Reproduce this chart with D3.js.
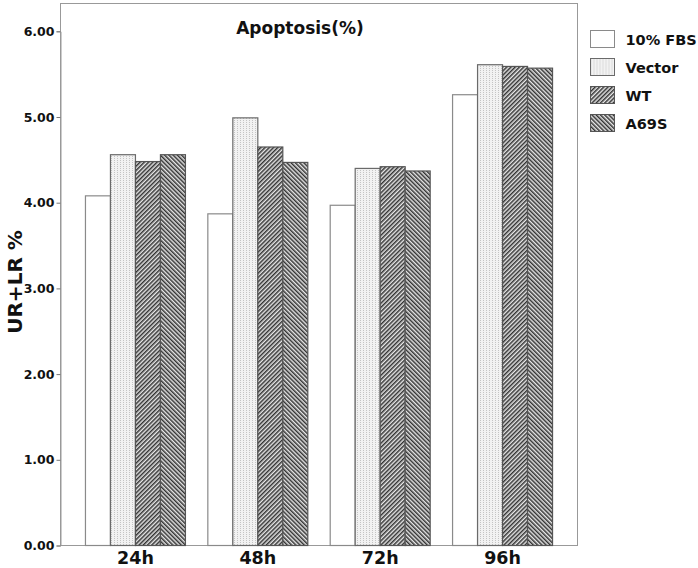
<!DOCTYPE html>
<html>
<head>
<meta charset="utf-8">
<script src="https://cdn.jsdelivr.net/npm/d3@7"></script>
<style>
  html, body { margin: 0; padding: 0; background: #fff; }
  svg { display: block; }
  text { font-family: "DejaVu Sans", Verdana, sans-serif; font-weight: bold; fill: #111; }
</style>
</head>
<body>
<svg id="chart" width="698" height="568"></svg>
<script>
// ---- data ----
const categories = ["24h", "48h", "72h", "96h"];
const series = ["10% FBS", "Vector", "WT", "A69S"];
const fbsValues    = [4.08, 3.87, 3.97, 5.26];
const vectorValues = [4.56, 4.99, 4.40, 5.61];
const wtValues     = [4.48, 4.65, 4.42, 5.59];
const a69sValues   = [4.56, 4.47, 4.37, 5.57];
const yTicks = [0, 1, 2, 3, 4, 5, 6];
const chartTitle = "Apoptosis(%)";
const yTitle = "UR+LR %";

const valuesBySeries = [fbsValues, vectorValues, wtValues, a69sValues];

(function () {
// ---- layout ----
const svg = d3.select("#chart");
const mLeft = 60.5, mRight = 577.5, mTop = 3.5, mBottom = 545.5;

const x0 = d3.scaleBand().domain(categories).range([mLeft, mRight])
  .paddingInner(0.183).paddingOuter(0.204);
const x1 = d3.scaleBand().domain(series).range([0, x0.bandwidth()]).padding(0);
const y = d3.scaleLinear().domain([0, 6]).range([mBottom, 31.3]);

// ---- patterns ----
const defs = svg.append("defs");
const pv = defs.append("pattern").attr("id", "pVector")
  .attr("patternUnits", "userSpaceOnUse").attr("width", 3).attr("height", 2);
pv.append("rect").attr("width", 3).attr("height", 2).attr("fill", "#f2f2f2");
pv.append("rect").attr("x", 0).attr("y", 0).attr("width", 1).attr("height", 1).attr("fill", "#c4c4c4");

function diag(id, angle) {
  const p = defs.append("pattern").attr("id", id)
    .attr("patternUnits", "userSpaceOnUse").attr("width", 3).attr("height", 3)
    .attr("patternTransform", `rotate(${angle})`);
  p.append("rect").attr("width", 3).attr("height", 3).attr("fill", "#e6e6e6");
  p.append("line").attr("x1", 0.75).attr("x2", 0.75).attr("y1", -1).attr("y2", 4)
    .attr("stroke", "#333").attr("stroke-width", 1.5);
}
diag("pWT", 45);
diag("pA69S", -45);

const fills = { "10% FBS": "#ffffff", "Vector": "url(#pVector)", "WT": "url(#pWT)", "A69S": "url(#pA69S)" };
const strokes = { "10% FBS": "#8a8a8a", "Vector": "#6a6a6a", "WT": "#555", "A69S": "#555" };

// ---- frame ----
svg.append("rect").attr("x", mLeft).attr("y", mTop)
  .attr("width", mRight - mLeft).attr("height", mBottom - mTop)
  .attr("fill", "none").attr("stroke", "#999").attr("stroke-width", 1);

// ---- bars ----
const data = [];
categories.forEach((c, i) => series.forEach((s, j) => data.push({ c, s, v: valuesBySeries[j][i] })));

svg.append("g").selectAll("rect").data(data).join("rect")
  .attr("x", d => x0(d.c) + x1(d.s))
  .attr("y", d => y(d.v))
  .attr("width", x1.bandwidth())
  .attr("height", d => y(0) - y(d.v))
  .attr("fill", d => fills[d.s])
  .attr("stroke", d => strokes[d.s])
  .attr("stroke-width", 1.2);

// ---- y axis ----
const yAxis = d3.axisLeft(y).tickValues(yTicks).tickFormat(d3.format(".2f")).tickSizeOuter(0).tickSize(4).tickPadding(2);
const gy = svg.append("g").attr("transform", `translate(${mLeft},0)`).call(yAxis);
gy.select(".domain").attr("stroke", "#999");
gy.selectAll(".tick line").attr("stroke", "#777");
gy.selectAll(".tick text").style("font-size", "12.5px").style("font-family", "DejaVu Sans").style("font-weight", "bold").attr("fill", "#111");

// ---- x axis labels ----
const xAxis = d3.axisBottom(x0).tickSize(0).tickPadding(6);
const gx = svg.append("g").attr("transform", `translate(0,${mBottom})`).call(xAxis);
gx.select(".domain").remove();
gx.selectAll(".tick text").style("font-size", "17.5px").style("font-family", "DejaVu Sans").style("font-weight", "bold").attr("fill", "#111");

// ---- title ----
svg.append("text").attr("x", 300).attr("y", 34).attr("text-anchor", "middle")
  .style("font-size", "17px").text(chartTitle);

// ---- y title ----
svg.append("text").attr("transform", "translate(22,282) rotate(-90)")
  .attr("text-anchor", "middle").style("font-size", "20px").text(yTitle);

// ---- legend ----
const lg = svg.append("g").selectAll("g").data(series).join("g")
  .attr("transform", (d, i) => `translate(590.5,${30.5 + i * 28})`);
lg.append("rect").attr("width", 24).attr("height", 17)
  .attr("fill", d => fills[d]).attr("stroke", d => strokes[d]).attr("stroke-width", 1);
lg.append("text").attr("x", 35).attr("y", 14).style("font-size", "14.5px").text(d => d);
})();
</script>
</body>
</html>
